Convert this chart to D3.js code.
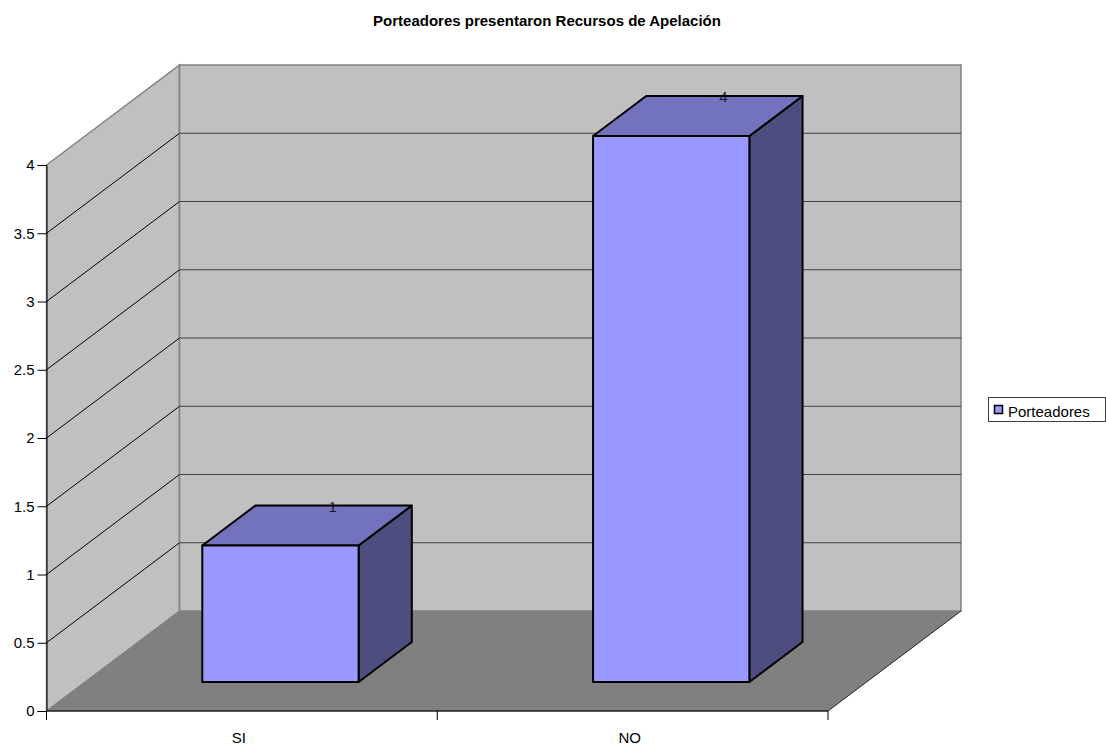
<!DOCTYPE html>
<html>
<head>
<meta charset="utf-8">
<style>
  html, body { margin: 0; padding: 0; background: #fff; }
  svg { display: block; font-family: "Liberation Sans", Arial, sans-serif; }
</style>
<script src="https://cdn.jsdelivr.net/npm/d3@7/dist/d3.min.js"></script>
</head>
<body>
<script>
const chartTitle = "Porteadores presentaron Recursos de Apelación";
const seriesName = "Porteadores";
const categories = ["SI", "NO"];
const values = [1, 4];
const tickValues = [0, 0.5, 1, 1.5, 2, 2.5, 3, 3.5, 4];

const width = 1106, height = 749;
const svg = d3.select("body").append("svg").attr("width", width).attr("height", height);

// Front plane scales
const x = d3.scaleBand().domain(categories).range([46.5, 828]);
const y = d3.scaleLinear().domain([0, 4]).range([711, 165]);

// Oblique projection of the chart box: depth 0 is the front, 1 is the back wall
const depthX = 133, depthY = -100;
const project = (px, py, d) => [px + depthX * d, py + depthY * d];
const poly = pts => pts.map(p => p.join(",")).join(" ");

const x0 = x.range()[0], x1 = x.range()[1];
const yBase = y(0), yTop = y(d3.max(tickValues));

const colors = { wall: "#c0c0c0", floor: "#808080", edge: "#808080",
                 front: "#9999ff", top: "#7373bd", side: "#4d4d80" };

// Side wall and back wall
svg.append("polygon")
  .attr("points", poly([project(x0, yBase, 0), project(x0, yBase, 1), project(x0, yTop, 1), project(x0, yTop, 0)]))
  .attr("fill", colors.wall).attr("stroke", colors.edge).attr("stroke-width", 1.5);
svg.append("polygon")
  .attr("points", poly([project(x0, yBase, 1), project(x1, yBase, 1), project(x1, yTop, 1), project(x0, yTop, 1)]))
  .attr("fill", colors.wall).attr("stroke", colors.edge).attr("stroke-width", 1.5);

// Floor
svg.append("polygon")
  .attr("points", poly([project(x0, yBase, 0), project(x1, yBase, 0), project(x1, yBase, 1), project(x0, yBase, 1)]))
  .attr("fill", colors.floor);
svg.append("line")
  .attr("x1", x1).attr("y1", yBase)
  .attr("x2", project(x1, yBase, 1)[0]).attr("y2", project(x1, yBase, 1)[1])
  .attr("stroke", "#222").attr("stroke-width", 1);

// Gridlines running along the side wall and the back wall
const grid = svg.append("g").attr("fill", "none");
tickValues.filter(v => v > 0 && v < 4).concat([]).forEach(v => {
  const a = project(x0, y(v), 0), b = project(x0, y(v), 1), c = project(x1, y(v), 1);
  grid.append("polyline").attr("points", poly([a, b])).attr("stroke", "#000").attr("stroke-width", 1);
  grid.append("polyline").attr("points", poly([b, c])).attr("stroke", "#404040").attr("stroke-width", 1);
});
{
  const b = project(x0, y(3.5) , 1);
  grid.append("line").attr("x1", b[0]).attr("y1", b[1]).attr("x2", b[0]).attr("y2", b[1]);
}

// Bars: each box sits inside the middle of its band, part way into the depth
const barShare = 0.4, barNear = 0.29, barFar = 0.69;
const bars = svg.append("g");
categories.forEach((c, i) => {
  const bw = x.bandwidth() * barShare;
  const xc = x(c) + x.bandwidth() / 2;
  const l = xc - bw / 2, r = xc + bw / 2;
  const yv = y(values[i]);
  const fl = (px, py, d) => project(px, py, d);
  const g = bars.append("g").attr("stroke", "#000").attr("stroke-width", 2).attr("stroke-linejoin", "round");
  g.append("polygon").attr("fill", colors.side)
    .attr("points", poly([fl(r, yBase, barNear), fl(r, yBase, barFar), fl(r, yv, barFar), fl(r, yv, barNear)]));
  g.append("polygon").attr("fill", colors.top)
    .attr("points", poly([fl(l, yv, barNear), fl(r, yv, barNear), fl(r, yv, barFar), fl(l, yv, barFar)]));
  g.append("polygon").attr("fill", colors.front)
    .attr("points", poly([fl(l, yv, barNear), fl(r, yv, barNear), fl(r, yBase, barNear), fl(l, yBase, barNear)]));
  const lab = project(xc, yv, barFar);
  svg.append("text").attr("x", lab[0] - 1).attr("y", lab[1] + 6)
    .attr("text-anchor", "middle").attr("font-size", 15).attr("fill", "#000").attr("fill-opacity", 0.8)
    .text(values[i]);
});

// Value axis on the front left edge
const yAxis = svg.append("g").attr("transform", `translate(${x0},0)`)
  .call(d3.axisLeft(y).tickValues(tickValues).tickFormat(d3.format("~g")).tickSize(9).tickPadding(3));
yAxis.selectAll("text").attr("font-size", 15).attr("font-family", "inherit").attr("fill", "#000");
yAxis.selectAll("line").attr("stroke", "#000");
yAxis.select(".domain").attr("stroke", "#000").attr("stroke-width", 1);

// Category axis along the front bottom edge
const xAxisLine = svg.append("g");
xAxisLine.append("line").attr("x1", x0).attr("x2", x1).attr("y1", yBase).attr("y2", yBase)
  .attr("stroke", "#222").attr("stroke-width", 1.5);
[x0, x0 + x.bandwidth(), x1].forEach(t => {
  xAxisLine.append("line").attr("x1", t).attr("x2", t).attr("y1", yBase).attr("y2", yBase + 9)
    .attr("stroke", "#000");
});
categories.forEach(c => {
  xAxisLine.append("text").attr("x", x(c) + x.bandwidth() / 2 - 3).attr("y", 743)
    .attr("text-anchor", "middle").attr("font-size", 15).attr("fill", "#000").text(c);
});

// Title
svg.append("text").attr("x", 547).attr("y", 26).attr("text-anchor", "middle")
  .attr("font-size", 15).attr("font-weight", "bold").attr("fill", "#000").text(chartTitle);

// Legend
const legend = svg.append("g");
legend.append("rect").attr("x", 988.5).attr("y", 397.5).attr("width", 117).attr("height", 24)
  .attr("fill", "#fff").attr("stroke", "#404040");
legend.append("rect").attr("x", 994.5).attr("y", 405.5).attr("width", 8).attr("height", 8)
  .attr("fill", colors.front).attr("stroke", "#000").attr("stroke-width", 1.5);
legend.append("text").attr("x", 1008).attr("y", 417).attr("font-size", 15).attr("fill", "#000").text(seriesName);
</script>
</body>
</html>
